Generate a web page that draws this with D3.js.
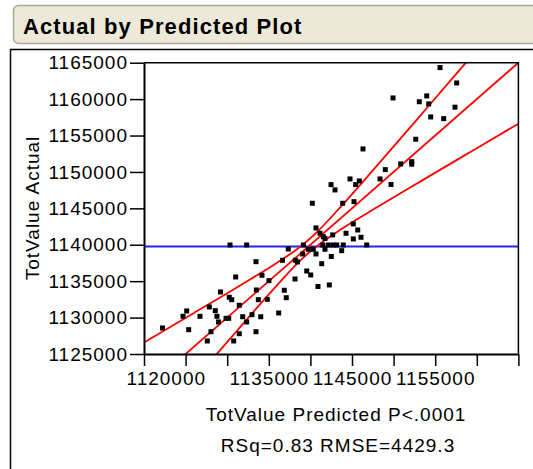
<!DOCTYPE html>
<html>
<head>
<meta charset="utf-8">
<script src="https://cdn.jsdelivr.net/npm/d3@7"></script>
<style>
  body { margin: 0; background: #fff; }
  text { font-family: "Liberation Sans", Arial, sans-serif; }
</style>
</head>
<body>
<script>
width = 533,
height = 469;

// predicted / actual pairs
var predicted = [1122220, 1124690, 1125130, 1125370, 1126730, 1127610, 1127850, 1128050, 1128570, 1128770,
  1128950, 1129190, 1129860, 1130180, 1130250, 1130540, 1130340, 1130780, 1131020, 1131450,
  1131450, 1131860, 1132340, 1132340, 1132980, 1133460, 1133500, 1133460, 1133740, 1134030,
  1134180, 1134820, 1135020, 1136190, 1136650, 1136860, 1137100, 1137340, 1138150, 1138190,
  1138450, 1139070, 1139150, 1139560, 1139750, 1140040, 1140230, 1140350, 1140670, 1140670,
  1140910, 1141150, 1141360, 1141480, 1141550, 1141750, 1141750, 1142150, 1142270, 1142480,
  1142510, 1142680, 1142750, 1142960, 1143160, 1143760, 1143880, 1143950, 1144280, 1144760,
  1145160, 1145160, 1145240, 1145440, 1145880, 1145690, 1146080, 1146320, 1146770, 1148370,
  1149000, 1149690, 1149930, 1150850, 1152180, 1152180, 1152660, 1153090, 1153980, 1154220,
  1154460, 1155580, 1156020, 1157380, 1157580];
var actual = [1128570, 1130180, 1130910, 1128340, 1130180, 1126790, 1131460, 1128060, 1130950, 1130180,
  1129400, 1133520, 1129900, 1129900, 1132790, 1132460, 1139970, 1126790, 1135580, 1131690,
  1127790, 1130120, 1139970, 1129400, 1130400, 1137680, 1133790, 1128060, 1132460, 1130120,
  1135810, 1132510, 1135070, 1130630, 1137870, 1133750, 1132730, 1139420, 1135300, 1137870,
  1137640, 1138740, 1139970, 1136400, 1139380, 1135850, 1145700, 1139380, 1142310, 1138740,
  1134270, 1141580, 1137400, 1139970, 1141110, 1140870, 1139380, 1139970, 1134480, 1148260,
  1138390, 1141350, 1139970, 1147530, 1139970, 1139190, 1145700, 1139970, 1141580, 1149040,
  1142860, 1140800, 1145920, 1148260, 1148760, 1142030, 1141030, 1153160, 1139970, 1149040,
  1150320, 1148280, 1160160, 1151100, 1151410, 1151060, 1154490, 1159640, 1160440, 1159340,
  1157550, 1164330, 1157320, 1158890, 1162220];

var meanActual = 1139770;
var fitLine = [[1120000, 1120000], [1165000, 1165000]];
var upperBand = [[1120000, 1126590], [1126000, 1130630], [1132000, 1134720], [1136000, 1137540],
  [1138500, 1139490], [1139770, 1140670], [1141000, 1141990], [1143500, 1145030],
  [1148000, 1150860], [1154000, 1158780], [1160000, 1166740], [1165000, 1173370]];
var lowerBand = [[1120000, 1113410], [1126000, 1121370], [1132000, 1129280], [1136000, 1134460],
  [1138500, 1137510], [1139770, 1138870], [1141000, 1140010], [1143500, 1141980],
  [1148000, 1145140], [1154000, 1149220], [1160000, 1153260], [1165000, 1156630]];

var xTicks = d3.range(1120000, 1165001, 5000);
var xLabels = [1120000, 1135000, 1145000, 1155000];
var yTicks = d3.range(1125000, 1165001, 5000);

var svg = d3.select("body").append("svg").attr("width", width).attr("height", height);

// outer panel and title bar
svg.append("path").attr("d", "M10.5,469 V49.5 H540")
  .style("fill", "none").style("stroke", "black").style("stroke-width", 1.5);
svg.append("rect").attr("x", 13.5).attr("y", 5.5).attr("width", 540).attr("height", 38)
  .attr("rx", 5).style("fill", "#ece9d8").style("stroke", "#a9a89c").style("stroke-width", 1.5);
svg.append("text").attr("x", 23).attr("y", 34).text("Actual by Predicted Plot")
  .style("font-size", "22px").style("font-weight", "bold").style("letter-spacing", "1.1px");

var X = d3.scaleLinear().domain([1120000, 1165000]).range([144, 518.4]);
var Y = d3.scaleLinear().domain([1125000, 1165000]).range([354, 62.7]);

svg.append("clipPath").attr("id", "clip").append("rect")
  .attr("x", X(1120000)).attr("y", Y(1165000))
  .attr("width", X(1165000) - X(1120000)).attr("height", Y(1125000) - Y(1165000));

var plot = svg.append("g").attr("clip-path", "url(#clip)");

plot.append("line")
  .attr("x1", X(1120000)).attr("x2", X(1165000))
  .attr("y1", Y(meanActual)).attr("y2", Y(meanActual))
  .style("stroke", "#2323f5").style("stroke-width", 2);

var line = d3.line().x(function(d) { return X(d[0]) }).y(function(d) { return Y(d[1]) });
var curve = d3.line().curve(d3.curveMonotoneX).x(function(d) { return X(d[0]) }).y(function(d) { return Y(d[1]) });

plot.append("path").attr("d", line(fitLine))
  .style("fill", "none").style("stroke", "#ff0000").style("stroke-width", 1.8);
[upperBand, lowerBand].forEach(function(b) {
  plot.append("path").attr("d", curve(b))
    .style("fill", "none").style("stroke", "#ff0000").style("stroke-width", 1.8);
});

var dots = predicted.map(function(p, i) { return { x: p, y: actual[i] } });
var sq = d3.symbol().type(d3.symbolSquare).size(25);
svg.selectAll(".dot").data(dots).enter().append("path").attr("class", "dot")
  .attr("d", sq)
  .attr("transform", function(d) { return "translate(" + X(d.x) + "," + Y(d.y) + ")" })
  .style("fill", "black");

// frame: top and right
svg.append("path")
  .attr("d", "M" + X(1120000) + "," + Y(1165000) + "H" + X(1165000) + "V" + Y(1125000))
  .style("fill", "none").style("stroke", "black").style("stroke-width", 1.5);

var yAxis = svg.append("g").attr("transform", "translate(" + X(1120000) + ",0)")
  .call(d3.axisLeft(Y).tickValues(yTicks).tickSize(14).tickSizeOuter(0).tickPadding(2).tickFormat(d3.format("d")));
var xAxis = svg.append("g").attr("transform", "translate(0," + Y(1125000) + ")")
  .call(d3.axisBottom(X).tickValues(xTicks).tickSize(12).tickSizeOuter(0).tickPadding(6)
    .tickFormat(function(d) { return xLabels.indexOf(d) >= 0 ? d3.format("d")(d) : "" }));

[xAxis, yAxis].forEach(function(a) {
  a.select(".domain").style("stroke", "black").style("stroke-width", 2);
  a.selectAll(".tick line").style("stroke", "black").style("stroke-width", 1.5);
  a.selectAll(".tick text").style("font-size", "19px").style("letter-spacing", "1px")
    .style("fill", "black").style("font-family", "'Liberation Sans', Arial, sans-serif");
});
// first x label is nudged right, clear of the y labels
xAxis.selectAll(".tick text").filter(function(d) { return d === 1120000 })
  .attr("text-anchor", "start").attr("x", -18);

svg.append("text").attr("transform", "translate(39,208) rotate(-90)")
  .attr("text-anchor", "middle").text("TotValue Actual")
  .style("font-size", "19px").style("letter-spacing", "1px");
svg.append("text").attr("x", 336).attr("y", 421).attr("text-anchor", "middle")
  .text("TotValue Predicted P<.0001").style("font-size", "19px").style("letter-spacing", "1px");
svg.append("text").attr("x", 338).attr("y", 452).attr("text-anchor", "middle")
  .text("RSq=0.83 RMSE=4429.3").style("font-size", "19px").style("letter-spacing", "1px");
</script>
</body>
</html>
